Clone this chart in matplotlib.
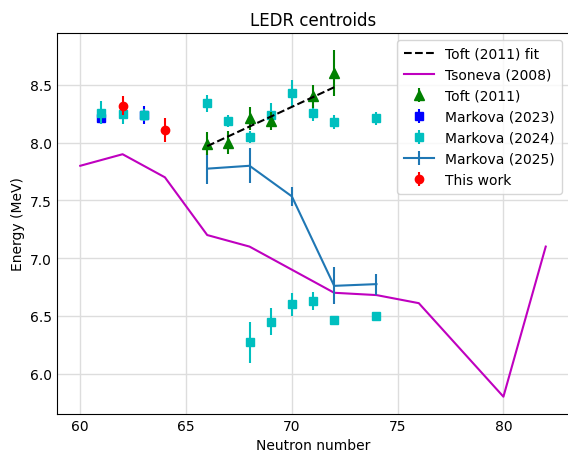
import numpy as np
import matplotlib.pyplot as plt

# Tsoneva (2008) calculation
tson_n = [60, 62, 64, 66, 68, 70, 72, 74, 76, 80, 82]
tson_e = [7.80, 7.90, 7.70, 7.20, 7.10, 6.90, 6.70, 6.68, 6.61, 5.80, 7.10]

# Toft (2011)
toft_n = [66, 67, 68, 69, 71, 72]
toft_e = [7.99, 8.00, 8.21, 8.19, 8.40, 8.60]
toft_err = [0.10, 0.10, 0.10, 0.08, 0.10, 0.20]
toft_fit_n = [66, 72]
toft_fit_e = [7.97, 8.48]

# Markova (2023)
m23_n = [61, 63]
m23_e = [8.21, 8.24]
m23_err = [0.05, 0.08]

# Markova (2024), two branches
m24_n = [61, 62, 63, 66, 67, 68, 69, 70, 71, 72, 74,
         68, 69, 70, 71, 72, 74]
m24_e = [8.26, 8.25, 8.24, 8.34, 8.19, 8.05, 8.24, 8.43, 8.26, 8.18, 8.21,
         6.27, 6.45, 6.60, 6.63, 6.46, 6.50]
m24_err = [0.10, 0.09, 0.05, 0.07, 0.05, 0.05, 0.10, 0.11, 0.07, 0.06, 0.06,
           0.18, 0.12, 0.10, 0.08, 0.03, 0.03]

# Markova (2025)
m25_n = [66, 68, 70, 72, 74]
m25_e = [7.775, 7.80, 7.535, 6.76, 6.775]
m25_err = [0.13, 0.15, 0.085, 0.16, 0.09]

# This work
tw_n = [62, 64]
tw_e = [8.32, 8.11]
tw_err = [0.08, 0.10]

fig = plt.figure(figsize=(5.68, 4.56), dpi=100)
ax = fig.add_axes([57 / 568, 41 / 456, 512 / 568, 381 / 456])

ax.plot(toft_fit_n, toft_fit_e, 'k--', label='Toft (2011) fit', zorder=5)
ax.plot(tson_n, tson_e, 'm-', label='Tsoneva (2008)')
ax.errorbar(toft_n, toft_e, yerr=toft_err, fmt='g^', markersize=7, label='Toft (2011)', zorder=4)
ax.errorbar(m23_n, m23_e, yerr=m23_err, fmt='bs', markersize=6, label='Markova (2023)', zorder=2)
ax.errorbar(m24_n, m24_e, yerr=m24_err, fmt='cs', markersize=6, label='Markova (2024)', zorder=3)
ax.errorbar(m25_n, m25_e, yerr=m25_err, fmt='-', color='C0', label='Markova (2025)')
ax.errorbar(tw_n, tw_e, yerr=tw_err, fmt='ro', markersize=6, label='This work', zorder=6)

ax.set_title('LEDR centroids')
ax.set_xlabel('Neutron number')
ax.set_ylabel('Energy (MeV)')
ax.set_xticks([60, 65, 70, 75, 80])
ax.set_yticks([6.0, 6.5, 7.0, 7.5, 8.0, 8.5])
ax.grid(True, color='#dddddd', linewidth=1)
ax.set_axisbelow(True)
ax.tick_params(length=0)
for s in ax.spines.values():
    s.set_color('black')
ax.legend(loc='upper right', borderpad=0.5, handlelength=2.2)

fig.savefig('out.png', dpi=100)
